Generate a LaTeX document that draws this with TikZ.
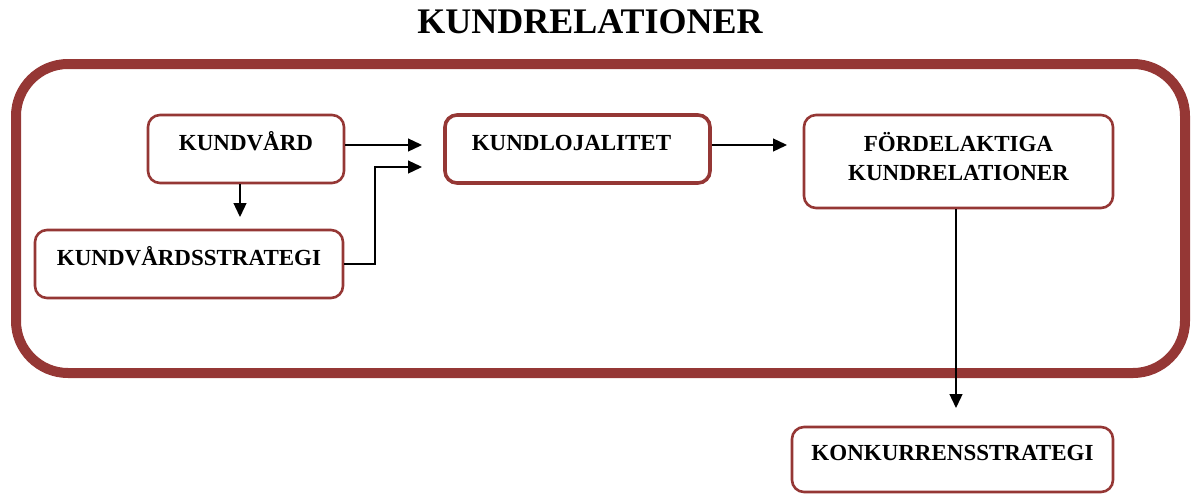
\documentclass[tikz,border=0pt]{standalone}
\usepackage{fontspec}
\setmainfont{Liberation Serif}
\usetikzlibrary{arrows.meta}
\definecolor{darkred}{HTML}{953735}
\begin{document}
\begin{tikzpicture}[x=1pt,y=-1pt,
  box/.style={draw=darkred,line width=2.6pt,rounded corners=12pt,fill=white,
    inner xsep=0pt,inner ysep=0pt,font=\bfseries\fontsize{23}{29}\selectfont},
  conn/.style={line width=1.3pt,-{Triangle[length=14pt,width=13pt]}}]
\useasboundingbox (0,0) rectangle (1192,493);
\node[font=\bfseries\fontsize{36}{40}\selectfont] (title) at (590,22) {KUNDRELATIONER};
\draw[darkred,line width=10pt,rounded corners=52pt] (16,64) rectangle (1185,373);
\node[box,minimum width=196pt,text height=35.5pt,text depth=32.5pt] (kv) at (246,149) {KUNDVÅRD};
\node[box,minimum width=308pt,text height=35pt,text depth=33pt] (kvs) at (189,264) {KUNDVÅRDSSTRATEGI};
\node[box,line width=3.6pt,minimum width=265pt,text height=35pt,text depth=33pt] (kl) at (577.5,149) {\hspace*{-12pt}KUNDLOJALITET};
\node[box,minimum width=309pt,text height=65pt,text depth=28pt] (fk) at (958.5,161.5) {\begin{tabular}[b]{@{}c@{}}FÖRDELAKTIGA\\KUNDRELATIONER\end{tabular}};
\node[box,minimum width=321pt,text height=33pt,text depth=32pt] (ks) at (952.5,459.5) {KONKURRENSSTRATEGI};
\coordinate (t1) at (422,145);
\coordinate (t2) at (422,167);
\coordinate (t3) at (240,217);
\coordinate (t4) at (787,145);
\coordinate (t5) at (956,408);
\draw[conn] (kv.east |- t1) -- (t1);
\draw[conn] (kvs.east) -- (375,264) |- (t2);
\draw[conn] (kv.south -| t3) -- (t3);
\draw[conn] (kl.east |- t4) -- (t4);
\draw[conn] (fk.south -| t5) -- (t5);
\end{tikzpicture}
\end{document}
